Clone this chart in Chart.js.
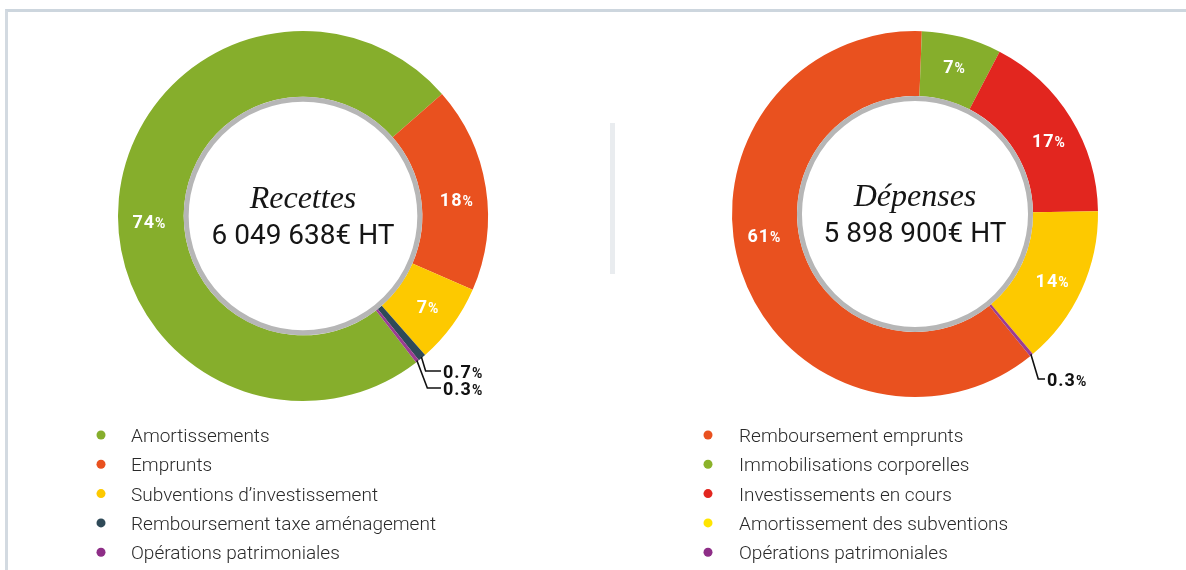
<!DOCTYPE html>
<html>
<head>
<meta charset="utf-8">
<script src="https://cdn.jsdelivr.net/npm/chart.js@4/dist/chart.umd.min.js"></script>
<style>
  html, body { margin: 0; padding: 0; background: #fff; }
  body { width: 1186px; height: 570px; position: relative; overflow: hidden; }
  .frame { position: absolute; left: 5px; top: 9px; width: 1220px; height: 600px;
           border-top: 3px solid #cdd6de; border-left: 3px solid #d3dae1; }
  .sep { position: absolute; left: 610px; top: 123px; width: 5px; height: 151px; background: #e9ecef; }
  canvas { position: absolute; top: 0; }
</style>
</head>
<body>
<div class="frame"></div>
<div class="sep"></div>
<canvas id="recettes" width="593" height="570" style="left:0"></canvas>
<canvas id="depenses" width="593" height="570" style="left:593px"></canvas>

<script>
// Recettes (%)
const recLabels = ['Amortissements', 'Emprunts', 'Subventions d\u2019investissement',
                   'Remboursement taxe aménagement', 'Opérations patrimoniales'];
const recValues = [74, 18, 7, 0.7, 0.3];
const recColors = ['#86ae2c', '#e9511f', '#fdc900', '#2f4a58', '#9b3d91'];
const recDots   = ['#86ae2c', '#e9511f', '#fdc900', '#2f4a58', '#8e2e87'];
const recTitle  = 'Recettes';
const recTotal  = '6 049 638€ HT';

// Dépenses (%)
const depLabels = ['Remboursement emprunts', 'Immobilisations corporelles', 'Investissements en cours',
                   'Amortissement des subventions', 'Opérations patrimoniales'];
const depValues = [61, 7, 17, 14, 0.3];
const depColors = ['#e9511f', '#86ae2c', '#e2261f', '#fdc900', '#9b3d91'];
const depDots   = ['#e9511f', '#8bb22a', '#e2261f', '#ffe500', '#8e2e87'];
const depTitle  = 'Dépenses';
const depTotal  = '5 898 900€ HT';

const DEG = Math.PI / 180;

function fmt(v) { return String(v); }

// draws "NN%" with a smaller percent sign
function drawPct(ctx, value, x, y, align, color) {
  ctx.save();
  ctx.fillStyle = color;
  ctx.textBaseline = 'alphabetic';
  ctx.textAlign = 'left';
  const num = fmt(value);
  ctx.font = 'bold 18px Roboto';
  ctx.letterSpacing = '1px';
  const w1 = ctx.measureText(num).width;
  ctx.font = 'bold 14px Roboto';
  ctx.letterSpacing = '0px';
  const w2 = ctx.measureText('%').width;
  const x0 = align === 'center' ? x - (w1 + w2) / 2 : x;
  ctx.font = 'bold 18px Roboto';
  ctx.letterSpacing = '1px';
  ctx.fillText(num, x0, y + 6.5);
  ctx.font = 'bold 14px Roboto';
  ctx.letterSpacing = '0px';
  ctx.fillText('%', x0 + w1, y + 6.5);
  ctx.restore();
}

const donutDecor = {
  id: 'donutDecor',
  afterDatasetsDraw(chart, args, opts) {
    const ctx = chart.ctx;
    const meta = chart.getDatasetMeta(0);
    const values = chart.data.datasets[0].data;
    const first = meta.data[0].getProps(['x', 'y', 'innerRadius', 'outerRadius'], true);
    const cx = first.x, cy = first.y;

    // grey inner rim
    ctx.save();
    ctx.beginPath();
    ctx.arc(cx, cy, first.innerRadius - 2.5, 0, Math.PI * 2);
    ctx.lineWidth = 5;
    ctx.strokeStyle = '#b6b6b6';
    ctx.stroke();
    ctx.restore();

    // centre texts
    ctx.save();
    ctx.fillStyle = '#151515';
    ctx.textAlign = 'center';
    ctx.textBaseline = 'alphabetic';
    ctx.font = 'italic 32px "Liberation Serif"';
    ctx.fillText(opts.title, cx, cy - 8);
    ctx.font = '28px Roboto';
    ctx.fillText(opts.total, cx, cy + 28);
    ctx.restore();

    // value labels inside the ring
    meta.data.forEach((arc, i) => {
      const v = values[i];
      if (v < 1) return;
      const p = arc.getProps(['startAngle', 'endAngle', 'innerRadius', 'outerRadius'], true);
      let a = (p.startAngle + p.endAngle) / 2;
      if (opts.labelAngle && opts.labelAngle[i] != null) a = (opts.labelAngle[i] - 90) * DEG;
      const r = (p.innerRadius + p.outerRadius) / 2 + 2;
      drawPct(ctx, v, cx + Math.cos(a) * r, cy + Math.sin(a) * r, 'center', '#ffffff');
    });

    // call-outs for the thin slices
    (opts.callouts || []).forEach(c => {
      const p = meta.data[c.index].getProps(['startAngle', 'endAngle', 'outerRadius'], true);
      const a = (p.startAngle + p.endAngle) / 2;
      const sx = cx + Math.cos(a) * (p.outerRadius - 1);
      const sy = cy + Math.sin(a) * (p.outerRadius - 1);
      const lx = cx + c.dx, ly = cy + c.dy;
      const ex = sx + (ly - sy) * c.slant;
      ctx.save();
      ctx.strokeStyle = '#111';
      ctx.lineWidth = 1.6;
      ctx.beginPath();
      ctx.moveTo(sx, sy);
      ctx.lineTo(ex, ly);
      ctx.lineTo(lx - 2, ly);
      ctx.stroke();
      ctx.restore();
      drawPct(ctx, values[c.index], lx, ly, 'left', '#111');
    });
  },
  afterDraw(chart, args, opts) {
    // one-column legend under the ring
    const ctx = chart.ctx;
    const L = opts.legend;
    ctx.save();
    chart.data.labels.forEach((label, i) => {
      const y = L.top + i * L.rowH;
      ctx.beginPath();
      ctx.arc(L.dotX, y, 4.5, 0, Math.PI * 2);
      ctx.fillStyle = opts.dots[i];
      ctx.fill();
      ctx.fillStyle = '#2a2a2a';
      ctx.font = '300 19px Roboto';
      ctx.textAlign = 'left';
      ctx.textBaseline = 'alphabetic';
      ctx.fillText(label, L.textX, y + 7);
    });
    ctx.restore();
  }
};

function makeDonut(id, labels, values, colors, rotation, padding, decor) {
  return new Chart(document.getElementById(id), {
    type: 'doughnut',
    data: {
      labels: labels,
      datasets: [{ data: values, backgroundColor: colors, borderWidth: 0, hoverOffset: 0 }]
    },
    options: {
      responsive: false,
      animation: false,
      events: [],
      rotation: rotation,
      cutout: '64.5%',
      layout: { padding: padding },
      plugins: {
        legend: { display: false },
        tooltip: { enabled: false },
        donutDecor: decor
      }
    },
    plugins: [donutDecor]
  });
}

makeDonut('recettes', recLabels, recValues, recColors, 142.3,
  { left: 118, right: 105, top: 31, bottom: 169 },
  {
    title: recTitle, total: recTotal, dots: recDots,
    labelAngle: [268, 84, null, null, null],
    callouts: [
      { index: 3, dx: 140, dy: 155, slant: 0.3 },
      { index: 4, dx: 140, dy: 172, slant: 0.38 }
    ],
    legend: { dotX: 101, textX: 131, top: 435, rowH: 29.3 }
  });

makeDonut('depenses', depLabels, depValues, depColors, 141,
  { left: 139, right: 88, top: 31, bottom: 173 },
  {
    title: depTitle, total: depTotal, dots: depDots,
    labelAngle: [262, null, 61, 116, null],
    callouts: [
      { index: 4, dx: 132, dy: 165, slant: 0.3 }
    ],
    legend: { dotX: 115, textX: 146, top: 435, rowH: 29.3 }
  });
</script>
</body>
</html>
